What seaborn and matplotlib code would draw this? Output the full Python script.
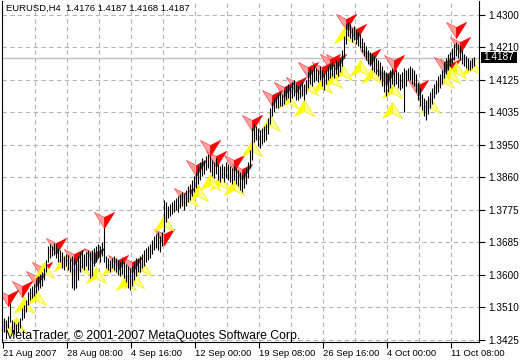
import numpy as np
import pandas as pd
import matplotlib
matplotlib.use("Agg")
import matplotlib.pyplot as plt
from matplotlib.path import Path
from matplotlib.markers import MarkerStyle
from matplotlib.patches import Rectangle
import seaborn as sns

# ---------------- data ----------------
highs = [
    1.3484, 1.3479, 1.3490, 1.3525, 1.3479, 1.3474, 1.3468, 1.3474, 1.3484, 1.3511,
    1.3520, 1.3533, 1.3555, 1.3565, 1.3571, 1.3576, 1.3587, 1.3598, 1.3603, 1.3609,
    1.3619, 1.3641, 1.3679, 1.3684, 1.3679, 1.3687, 1.3684, 1.3673, 1.3668, 1.3663,
    1.3652, 1.3657, 1.3655, 1.3646, 1.3652, 1.3646, 1.3641, 1.3652, 1.3663, 1.3668,
    1.3657, 1.3663, 1.3668, 1.3663, 1.3668, 1.3673, 1.3679, 1.3684, 1.3679, 1.3690,
    1.3727, 1.3652, 1.3646, 1.3641, 1.3646, 1.3652, 1.3646, 1.3641, 1.3636, 1.3641,
    1.3636, 1.3630, 1.3625, 1.3619, 1.3625, 1.3636, 1.3646, 1.3646, 1.3652, 1.3657,
    1.3668, 1.3673, 1.3679, 1.3684, 1.3695, 1.3706, 1.3711, 1.3717, 1.3706, 1.3717,
    1.3803, 1.3798, 1.3787, 1.3792, 1.3798, 1.3803, 1.3808, 1.3814, 1.3819, 1.3825,
    1.3819, 1.3830, 1.3841, 1.3846, 1.3857, 1.3868, 1.3879, 1.3895, 1.3906, 1.3916,
    1.3911, 1.3922, 1.3927, 1.3922, 1.3911, 1.3906, 1.3916, 1.3900, 1.3895, 1.3900,
    1.3895, 1.3906, 1.3900, 1.3895, 1.3889, 1.3895, 1.3889, 1.3884, 1.3879, 1.3873,
    1.3879, 1.3889, 1.3906, 1.3938, 1.3997, 1.4008, 1.4003, 1.3997, 1.3992, 1.3997,
    1.4003, 1.4008, 1.4024, 1.4051, 1.4068, 1.4078, 1.4084, 1.4089, 1.4095, 1.4089,
    1.4100, 1.4111, 1.4116, 1.4111, 1.4122, 1.4127, 1.4116, 1.4111, 1.4116, 1.4122,
    1.4116, 1.4127, 1.4149, 1.4159, 1.4154, 1.4165, 1.4159, 1.4154, 1.4165, 1.4154,
    1.4143, 1.4154, 1.4165, 1.4170, 1.4176, 1.4170, 1.4181, 1.4176, 1.4186, 1.4208,
    1.4246, 1.4278, 1.4284, 1.4278, 1.4267, 1.4273, 1.4262, 1.4257, 1.4251, 1.4240,
    1.4230, 1.4219, 1.4208, 1.4203, 1.4197, 1.4192, 1.4186, 1.4181, 1.4176, 1.4165,
    1.4154, 1.4149, 1.4143, 1.4154, 1.4159, 1.4149, 1.4154, 1.4149, 1.4143, 1.4149,
    1.4159, 1.4154, 1.4159, 1.4165, 1.4159, 1.4154, 1.4143, 1.4122, 1.4105, 1.4089,
    1.4078, 1.4073, 1.4084, 1.4095, 1.4105, 1.4116, 1.4127, 1.4138, 1.4143, 1.4154,
    1.4176, 1.4186, 1.4197, 1.4203, 1.4213, 1.4224, 1.4230, 1.4224, 1.4219, 1.4208,
    1.4197, 1.4192, 1.4186, 1.4181, 1.4186, 1.4189,
]
lows = [
    1.3447, 1.3452, 1.3457, 1.3474, 1.3447, 1.3441, 1.3436, 1.3447, 1.3457, 1.3479,
    1.3484, 1.3501, 1.3520, 1.3533, 1.3538, 1.3544, 1.3552, 1.3560, 1.3565, 1.3571,
    1.3587, 1.3609, 1.3636, 1.3646, 1.3652, 1.3655, 1.3646, 1.3636, 1.3636, 1.3619,
    1.3614, 1.3625, 1.3614, 1.3609, 1.3565, 1.3560, 1.3565, 1.3587, 1.3609, 1.3619,
    1.3614, 1.3625, 1.3614, 1.3592, 1.3598, 1.3625, 1.3636, 1.3646, 1.3636, 1.3652,
    1.3636, 1.3619, 1.3614, 1.3609, 1.3619, 1.3614, 1.3609, 1.3600, 1.3598, 1.3603,
    1.3592, 1.3582, 1.3565, 1.3560, 1.3571, 1.3587, 1.3598, 1.3609, 1.3609, 1.3619,
    1.3625, 1.3636, 1.3641, 1.3646, 1.3657, 1.3668, 1.3673, 1.3668, 1.3663, 1.3679,
    1.3717, 1.3744, 1.3754, 1.3760, 1.3765, 1.3771, 1.3776, 1.3771, 1.3781, 1.3787,
    1.3776, 1.3787, 1.3798, 1.3803, 1.3814, 1.3825, 1.3835, 1.3846, 1.3857, 1.3868,
    1.3873, 1.3884, 1.3889, 1.3879, 1.3868, 1.3862, 1.3873, 1.3857, 1.3852, 1.3862,
    1.3852, 1.3862, 1.3857, 1.3852, 1.3846, 1.3857, 1.3846, 1.3841, 1.3830, 1.3825,
    1.3835, 1.3846, 1.3862, 1.3889, 1.3911, 1.3960, 1.3965, 1.3949, 1.3943, 1.3954,
    1.3960, 1.3965, 1.3981, 1.4008, 1.4030, 1.4041, 1.4051, 1.4051, 1.4057, 1.4057,
    1.4062, 1.4073, 1.4078, 1.4068, 1.4078, 1.4084, 1.4073, 1.4073, 1.4078, 1.4084,
    1.4073, 1.4089, 1.4105, 1.4116, 1.4111, 1.4122, 1.4127, 1.4122, 1.4127, 1.4111,
    1.4100, 1.4116, 1.4127, 1.4132, 1.4138, 1.4132, 1.4143, 1.4138, 1.4149, 1.4165,
    1.4186, 1.4224, 1.4246, 1.4240, 1.4230, 1.4235, 1.4224, 1.4219, 1.4213, 1.4203,
    1.4192, 1.4181, 1.4170, 1.4165, 1.4154, 1.4149, 1.4143, 1.4138, 1.4127, 1.4111,
    1.4095, 1.4084, 1.4095, 1.4105, 1.4116, 1.4111, 1.4116, 1.4105, 1.4100, 1.4105,
    1.4041, 1.4111, 1.4127, 1.4127, 1.4116, 1.4111, 1.4095, 1.4073, 1.4057, 1.4046,
    1.4030, 1.4019, 1.4035, 1.4051, 1.4062, 1.4078, 1.4089, 1.4095, 1.4105, 1.4116,
    1.4132, 1.4143, 1.4154, 1.4165, 1.4170, 1.4181, 1.4192, 1.4186, 1.4181, 1.4170,
    1.4165, 1.4159, 1.4154, 1.4154, 1.4159, 1.4165,
]

red_idx = [2, 9, 16, 19, 26, 35, 45, 50, 57, 64, 80, 90, 96, 103, 106, 115, 119, 124,
           134, 140, 146, 152, 159, 163, 166, 171, 176, 183, 191, 195, 207, 220, 223, 226, 228]
red_px = [1.3538, 1.3563, 1.3590, 1.3614, 1.3679, 1.3649, 1.3652, 1.3749, 1.3633, 1.3628,
          1.3703, 1.3814, 1.3889, 1.3943, 1.3914, 1.3903, 1.3879, 1.4011, 1.4078, 1.4100,
          1.4113, 1.4154, 1.4154, 1.4176, 1.4176, 1.4284, 1.4257, 1.4189, 1.4135, 1.4173,
          1.4105, 1.4167, 1.4162, 1.4262, 1.4221]

yel_idx = [0, 6, 10, 16, 20, 30, 38, 46, 54, 61, 65, 69, 80, 92, 97, 103, 108, 115, 124,
           133, 142, 150, 152, 159, 164, 169, 170, 178, 184, 194, 194, 213, 220, 223, 226, 234]
yel_px = [1.3457, 1.3465, 1.3519, 1.3541, 1.3614, 1.3633, 1.3622, 1.3600, 1.3622, 1.3582,
          1.3587, 1.3619, 1.3741, 1.3808, 1.3822, 1.3852, 1.3852, 1.3838, 1.3943, 1.4011,
          1.4073, 1.4051, 1.4108, 1.4113, 1.4127, 1.4149, 1.4249, 1.4159, 1.4140, 1.4100,
          1.4046, 1.4059, 1.4127, 1.4140, 1.4154, 1.4162]

# horizontal grid levels (evenly spaced in the terminal) and their printed labels
grid_levels = [1.43025, 1.42148, 1.41270, 1.40393, 1.39515, 1.38638, 1.37760,
               1.36883, 1.36005, 1.35128, 1.34250]
price_labels = ["1.4300", "1.4210", "1.4125", "1.4035", "1.3950", "1.3860", "1.3775",
                "1.3685", "1.3600", "1.3510", "1.3425"]
date_labels = ["21 Aug 2007", "28 Aug 08:00", "4 Sep 16:00", "12 Sep 00:00",
               "19 Sep 08:00", "26 Sep 16:00", "4 Oct 00:00", "11 Oct 08:00"]
date_bar = [-0.5, 31.5, 63.5, 95.5, 127.5, 159.5, 191.5, 223.5]
grid_bar = [15.5, 31.5, 47.5, 63.5, 79.5, 95.5, 111.5, 127.5, 143.5, 159.5,
            175.5, 191.5, 207.5, 223.5]
last_price = 1.4187
header = "EURUSD,H4  1.4176 1.4187 1.4168 1.4187"
footer = "MetaTrader, \u00a9 2001-2007 MetaQuotes Software Corp."

# ---------------- figure ----------------
sns.set_theme(style="white")
plt.rcParams['font.family'] = ['Liberation Sans', 'DejaVu Sans']

W, H = 520, 360
fig = plt.figure(figsize=(W / 100, H / 100), dpi=100)
fig.patch.set_facecolor("white")
ax = fig.add_axes([2 / W, 18 / H, 477 / W, 341 / H])
ax.set_facecolor("white")

df = pd.DataFrame({"bar": np.arange(len(highs)), "high": highs, "low": lows})

# grid
for g in grid_bar:
    ax.axvline(g, color="#b4b4b4", lw=0.8, ls=(0, (4, 3)), zorder=0)
for p in grid_levels:
    ax.axhline(p, color="#b4b4b4", lw=0.8, ls=(0, (4, 3)), zorder=0)
ax.axhline(last_price, color="#c0c0c0", lw=1.0, zorder=1)

# arrow markers (two-tone halves)
C = [Path.MOVETO, Path.LINETO, Path.LINETO, Path.CLOSEPOLY]
red_l = MarkerStyle(Path([(0, -0.8), (0, 0.3), (-1, 0.8), (0, -0.8)], C))
red_r = MarkerStyle(Path([(0, -0.8), (1, 0.8), (0, 0.3), (0, -0.8)], C))
yel_l = MarkerStyle(Path([(0, 0.8), (-1, -0.8), (0, -0.3), (0, 0.8)], C))
yel_r = MarkerStyle(Path([(0, 0.8), (0, -0.3), (1, -0.8), (0, 0.8)], C))
msz = 210
sns.scatterplot(x=red_idx, y=red_px, marker=red_l, s=msz, color="#ffa0a0",
                edgecolor="#ff5050", linewidth=0.5, ax=ax, zorder=2, legend=False)
sns.scatterplot(x=red_idx, y=red_px, marker=red_r, s=msz, color="#ff0000",
                edgecolor="#ff0000", linewidth=0.5, ax=ax, zorder=2, legend=False)
sns.scatterplot(x=yel_idx, y=yel_px, marker=yel_l, s=msz, color="#ffff00",
                edgecolor="#ffff00", linewidth=0.5, ax=ax, zorder=2, legend=False)
sns.scatterplot(x=yel_idx, y=yel_px, marker=yel_r, s=msz, color="#ffff90",
                edgecolor="#f0f000", linewidth=0.5, ax=ax, zorder=2, legend=False)

# bars
ax.vlines(df["bar"], df["low"], df["high"], color="black", lw=0.8, zorder=3, snap=True)

ax.set_xlim(-1, 237.5)
ax.set_ylim(1.34196, 1.43403)

# axes styling
for s in ["left", "bottom", "right"]:
    ax.spines[s].set_visible(True)
    ax.spines[s].set_color("black")
    ax.spines[s].set_linewidth(0.8)
ax.spines["top"].set_visible(False)

ax.yaxis.tick_right()
ax.set_yticks(grid_levels)
ax.set_yticklabels(price_labels)
ax.tick_params(axis="y", which="major", right=True, left=False, length=4, width=0.8,
               color="black", labelsize=7.2, labelcolor="black", pad=3)
ax.set_xticks(date_bar)
ax.set_xticklabels(date_labels)
ax.tick_params(axis="x", which="major", bottom=True, length=4, width=0.8,
               color="black", labelsize=6.8, labelcolor="black", pad=1)
for lbl in ax.get_xticklabels():
    lbl.set_horizontalalignment("left")
ax.set_xlabel("")
ax.set_ylabel("")

# current price box
fig.add_artist(Rectangle((481 / W, 1 - 63 / H), 36 / W, 11.5 / H, facecolor="black",
                         edgecolor="none", transform=fig.transFigure))
fig.text(499 / W, 1 - 57.3 / H, f"{last_price:.4f}", color="white", fontsize=7.2,
         va="center", ha="center")

fig.text(6 / W, 1 - 4 / H, header, fontsize=6.8, va="top", ha="left", color="black")
fig.text(5 / W, 1 - 339 / H, footer, fontsize=8.8, va="baseline", ha="left", color="black")

fig.savefig("out.png", dpi=100, facecolor="white")
